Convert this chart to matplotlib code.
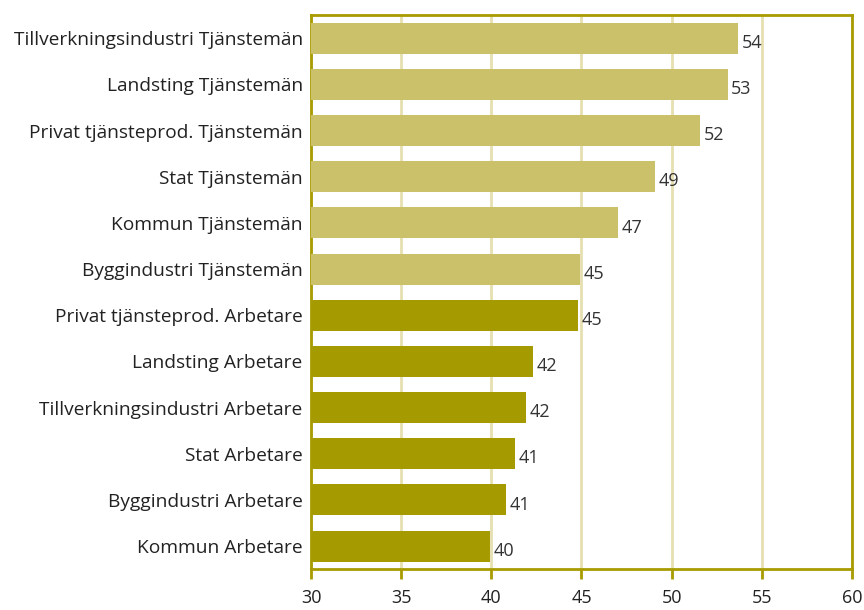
import matplotlib
matplotlib.use("Agg")
import matplotlib.pyplot as plt

categories = [
    "Tillverkningsindustri Tjänstemän",
    "Landsting Tjänstemän",
    "Privat tjänsteprod. Tjänstemän",
    "Stat Tjänstemän",
    "Kommun Tjänstemän",
    "Byggindustri Tjänstemän",
    "Privat tjänsteprod. Arbetare",
    "Landsting Arbetare",
    "Tillverkningsindustri Arbetare",
    "Stat Arbetare",
    "Byggindustri Arbetare",
    "Kommun Arbetare",
]
values = [53.7, 53.1, 51.6, 49.1, 47.0, 44.9, 44.8, 42.3, 41.9, 41.3, 40.8, 39.95]
labels = ["54", "53", "52", "49", "47", "45", "45", "42", "42", "41", "41", "40"]
groups = ["T"] * 6 + ["A"] * 6

light = "#CBC16A"
dark = "#A59A00"
spine_col = "#A89C00"
grid_col = "#E6DFB0"

plt.rcParams["font.family"] = ["Open Sans", "DejaVu Sans"]

fig = plt.figure(figsize=(8.64, 6.1), dpi=100)
ax = fig.add_axes([0.36, 0.067, 0.626, 0.908])

ypos = list(range(len(categories)))
colors = [light if g == "T" else dark for g in groups]
ax.barh(ypos, [v - 30 for v in values], left=30, height=0.67, color=colors, zorder=3)

# value labels next to the bars
for y, v, lab in zip(ypos, values, labels):
    ax.text(v + 0.2, y + 0.1, lab, va="center", ha="left", fontsize=13, color="#333333", zorder=4)

ax.set_xlim(30, 60)
ax.set_ylim(len(categories) - 0.5, -0.5)
ax.set_yticks(ypos)
ax.set_yticklabels(categories, fontsize=13.8, color="#222222")
ax.set_xticks(range(30, 61, 5))
ax.tick_params(axis="y", length=0, pad=6)
ax.tick_params(axis="x", length=7, width=2, color=spine_col, labelsize=13, pad=7, labelcolor="#222222")

for s in ax.spines.values():
    s.set_color(spine_col)
    s.set_linewidth(2)

ax.grid(axis="x", color=grid_col, linewidth=2, zorder=0)
ax.set_axisbelow(True)

fig.savefig("out.png", dpi=100)
